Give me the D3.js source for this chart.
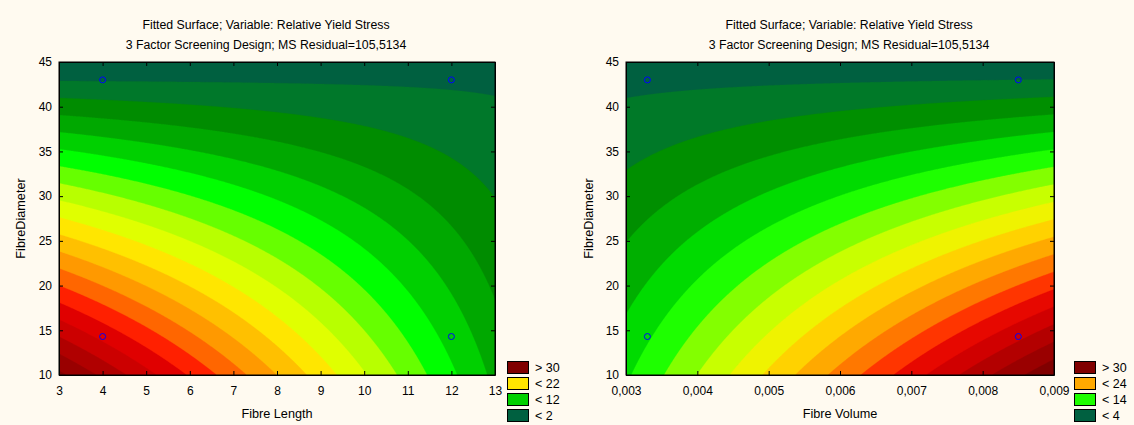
<!DOCTYPE html>
<html><head><meta charset="utf-8">
<script src="https://cdn.jsdelivr.net/npm/d3@7"></script>
<style>
body{margin:0;background:#FFFAF0}
svg{display:block}
text{font-family:"Liberation Sans",Arial,sans-serif;fill:#000}
</style>
</head><body>
<svg id="chart" width="1134" height="425"></svg>
<script>
// ---------- data ----------
const titleLines = ["Fitted Surface; Variable: Relative Yield Stress", "3 Factor Screening Design; MS Residual=105,5134"];
const yAxisTitle = "FibreDiameter";
const diameterTicks = [10, 15, 20, 25, 30, 35, 40, 45];
const lengthTicks = [3, 4, 5, 6, 7, 8, 9, 10, 11, 12, 13];
const volumeTicks = [0.003, 0.004, 0.005, 0.006, 0.007, 0.008, 0.009];
// design points (2x2 factorial) and fitted values there
const lengthDesign = [4, 4, 12, 12];
const volumeDesign = [0.0033, 0.0033, 0.0085, 0.0085];
const diameterDesign = [14.3, 43, 14.3, 43];
const stressByLength = [29.45, 1.85, 9.25, 1.70];
const stressByVolume = [11.75, 3.52, 31.50, 4.00];
// contour levels
const levelsLength = [2, 4, 6, 8, 10, 12, 14, 16, 18, 20, 22, 24, 26, 28, 30, 32, 34, 36];
const levelsVolume = [4, 6, 8, 10, 12, 14, 16, 18, 20, 22, 24, 26, 28, 30, 32, 34, 36];
const legendLength = ["> 30", "< 22", "< 12", "< 2"];
const legendVolume = ["> 30", "< 24", "< 14", "< 4"];

// ---------- styling ----------
const paletteStops = ["#006040","#00782A","#008C00","#00A800","#00D000","#00FF00","#66FF00","#B8FF00","#E0FF00","#FFE600",
  "#FFC000","#FF9900","#FF6600","#FF2000","#E00000","#CC0000","#B00000","#990000","#800000"];
const paletteInterp = d3.piecewise(d3.interpolateRgb, paletteStops);

const svg = d3.select("#chart");
svg.append("rect").attr("width",1134).attr("height",425).attr("fill","#FFFAF0");

const panels = [
  {x0:59, x1:495, y0:62, y1:375, xDomain:[3,13], xTicks:lengthTicks, xDesign:lengthDesign, z:stressByLength,
   levels:levelsLength, xTitle:"Fibre Length", fmt:d=>String(d), titleX:266, yTitleX:21, legend:legendLength,
   legendIdx:[18,9,4,0], legendX:507},
  {x0:626, x1:1054, y0:62, y1:375, xDomain:[0.003,0.009], xTicks:volumeTicks, xDesign:volumeDesign, z:stressByVolume,
   levels:levelsVolume, xTitle:"Fibre Volume", fmt:d=>d3.format(".3f")(d).replace(".", ","), titleX:849, yTitleX:589, legend:legendVolume,
   legendIdx:[17,10,5,0], legendX:1074}
];

panels.forEach((p, pi) => {
  const x = d3.scaleLinear().domain(p.xDomain).range([p.x0, p.x1]);
  const y = d3.scaleLinear().domain([10,45]).range([p.y1, p.y0]);
  const nBands = p.levels.length + 1;
  const color = i => paletteInterp(Math.min(1, i/(nBands-1)));

  // bilinear fitted surface through the 2x2 design points
  const xa = p.xDesign[0], xb = p.xDesign[2], ya = diameterDesign[0], yb = diameterDesign[1];
  const [z11, z12, z21, z22] = p.z;
  const f = (xv, yv) => {
    const s = (xv - xa)/(xb - xa), t = (yv - ya)/(yb - ya);
    return z11*(1-s)*(1-t) + z12*(1-s)*t + z21*s*(1-t) + z22*s*t;
  };

  const n = Math.round(p.x1 - p.x0), m = Math.round(p.y1 - p.y0);
  const values = new Float64Array(n*m);
  for (let j=0;j<m;j++) for (let i=0;i<n;i++)
    values[j*n+i] = f(x.invert(p.x0+i+0.5), y.invert(p.y0+j+0.5));

  const clipId = "clip"+pi;
  svg.append("clipPath").attr("id",clipId).append("rect")
    .attr("x",p.x0).attr("y",p.y0).attr("width",n).attr("height",m);

  const g = svg.append("g").attr("clip-path",`url(#${clipId})`);
  g.append("rect").attr("x",p.x0).attr("y",p.y0).attr("width",n).attr("height",m).attr("fill",color(0));
  const contours = d3.contours().size([n,m]).thresholds(p.levels)(values);
  const path = d3.geoPath(d3.geoIdentity().translate([p.x0,p.y0]));
  g.selectAll("path").data(contours).join("path")
    .attr("d",path).attr("fill",(d,i)=>color(i+1)).attr("stroke",(d,i)=>color(i+1)).attr("stroke-width",0.3);

  // axes: ticks inward on all sides
  const ax = (gen, tr) => svg.append("g").attr("transform",tr).call(gen)
     .call(s=>s.selectAll("text").style("font-size","12px").style("font-family","Liberation Sans, Arial, sans-serif").attr("fill","#000"))
     .call(s=>s.selectAll("line,path").attr("stroke","#000"));
  ax(d3.axisBottom(x).tickValues(p.xTicks).tickFormat(p.fmt).tickSizeInner(-4).tickSizeOuter(0).tickPadding(11), `translate(0,${p.y1})`);
  ax(d3.axisTop(x).tickValues(p.xTicks).tickFormat("").tickSizeInner(-4).tickSizeOuter(0), `translate(0,${p.y0})`);
  ax(d3.axisLeft(y).tickValues(diameterTicks).tickSizeInner(-4).tickSizeOuter(0).tickPadding(7), `translate(${p.x0},0)`);
  ax(d3.axisRight(y).tickValues(diameterTicks).tickFormat("").tickSizeInner(-4).tickSizeOuter(0), `translate(${p.x1},0)`);
  svg.append("rect").attr("x",p.x0).attr("y",p.y0).attr("width",n).attr("height",m)
    .attr("fill","none").attr("stroke","#000").attr("stroke-width",1);

  // design points
  svg.append("g").selectAll("circle").data(p.xDesign).join("circle")
    .attr("cx",(d)=>x(d)).attr("cy",(d,i)=>y(diameterDesign[i])).attr("r",3)
    .attr("fill","none").attr("stroke","#0000FF").attr("stroke-width",1);

  // titles
  svg.append("text").attr("x",p.titleX).attr("y",29).attr("text-anchor","middle").style("font-size","12.3px").text(titleLines[0]);
  svg.append("text").attr("x",p.titleX).attr("y",49).attr("text-anchor","middle").style("font-size","12.3px").text(titleLines[1]);
  svg.append("text").attr("x",(p.x0+p.x1)/2).attr("y",418).attr("text-anchor","middle").style("font-size","12.7px").text(p.xTitle);
  svg.append("text").attr("transform",`translate(${p.yTitleX},${(p.y0+p.y1)/2}) rotate(-90)`).attr("text-anchor","middle")
    .attr("dy","0.35em").style("font-size","12.7px").text(yAxisTitle);

  // legend
  const lg = svg.append("g");
  p.legend.forEach((lab,i)=>{
    lg.append("rect").attr("x",p.legendX+0.5).attr("y",361.5+i*16).attr("width",21).attr("height",12)
      .attr("fill",color(p.legendIdx[i])).attr("stroke","#000");
    lg.append("text").attr("x",p.legendX+28).attr("y",372+i*16).style("font-size","12.5px").text(lab);
  });
});
</script>
</body></html>
